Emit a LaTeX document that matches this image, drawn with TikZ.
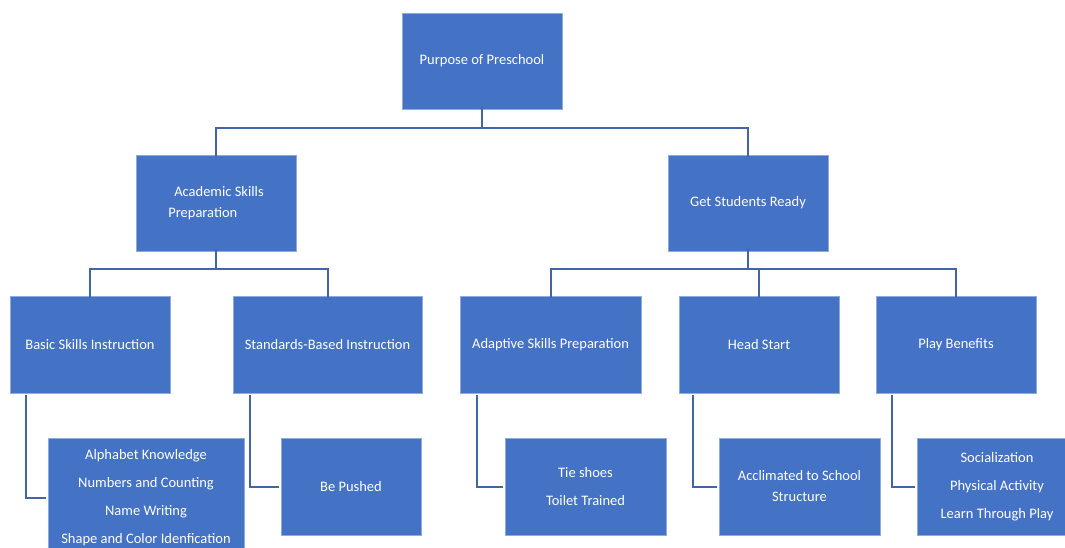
\documentclass[tikz,border=0pt]{standalone}
\usepackage{fontspec}
\setmainfont{Carlito}
\usetikzlibrary{positioning}

\definecolor{boxblue}{HTML}{4472C4}
\definecolor{lineblue}{HTML}{4165A8}
\definecolor{edgeblue}{HTML}{8FAADC}

\tikzset{
  box/.style={draw=edgeblue, line width=0.6pt, fill=boxblue, text=white,
    minimum width=160pt, minimum height=96pt, inner sep=2pt,
    font=\fontsize{14.5}{21}\selectfont, align=center},
  link/.style={draw=lineblue, line width=2pt}
}

\begin{document}
\begin{tikzpicture}[x=1pt,y=-1pt]
	\useasboundingbox (0,0) rectangle (1065,548);
	\clip (0,0) rectangle (1065,548);

	% top levels
	\node[box] (top) at (482,61) {Purpose of Preschool};
	\node[box, align=left] (acad) at (216,203) {\hspace*{6pt}Academic Skills\\Preparation};
	\node[box] (ready) at (748,203) {Get Students Ready};

	% third level
	\node[box, minimum height=97pt] (basic) at (90,344.5) {Basic Skills Instruction};
	\node[box, minimum width=189pt, minimum height=97pt] (std) at (327.5,344.5) {Standards-Based Instruction};
	\node[box, minimum width=181pt, minimum height=97pt] (adapt) at (550.5,344.5) {Adaptive Skills Preparation};
	\node[box, minimum height=97pt] (head) at (759,344.5) {Head Start};
	\node[box, minimum height=97pt] (play) at (956,344.5) {Play Benefits};

	% leaves
	\node[box, minimum width=196pt, minimum height=120pt] (alpha) at (146,498)
	  {Alphabet Knowledge\\[7pt]Numbers and Counting\\[7pt]Name Writing\\[7pt]Shape and Color Idenfication};
	\node[box, minimum width=140pt, minimum height=97pt] (pushed) at (351,486.5) {Be Pushed};
	\node[box, minimum width=161pt, minimum height=97pt] (tie) at (585.5,486.5) {Tie shoes\\[7pt]Toilet Trained};
	\node[box, minimum width=161pt, minimum height=97pt] (accl) at (799.5,486.5) {Acclimated to School\\Structure};
	\node[box, minimum height=97pt] (social) at (997,486.5) {Socialization\\[7pt]Physical Activity\\[7pt]Learn Through Play};

	% tree links
	\draw[link] ([yshift=2]top.south) -- ++(0,21) -| ([yshift=-2]acad.north);
	\draw[link] ([yshift=2]top.south) -- ++(0,21) -| ([yshift=-2]ready.north);
	\draw[link] ([yshift=2]acad.south) -- ++(0,20) -| ([yshift=-2]basic.north);
	\draw[link] ([yshift=2]acad.south) -- ++(0,20) -| ([yshift=-2]std.north);
	\draw[link] ([yshift=2]ready.south) -- ++(0,20) -| ([yshift=-2]adapt.north);
	\draw[link] ([yshift=2]ready.south) -- ++(0,20) -| ([yshift=-2]head.north);
	\draw[link] ([yshift=2]ready.south) -- ++(0,20) -| ([yshift=-2]play.north);

	% elbows to leaves
	\draw[link] ([shift={(16,2)}]basic.south west) |- ([xshift=-2]alpha.west);
	\draw[link] ([shift={(17,2)}]std.south west) |- ([xshift=-2]pushed.west);
	\draw[link] ([shift={(17,2)}]adapt.south west) |- ([xshift=-2]tie.west);
	\draw[link] ([shift={(14,2)}]head.south west) |- ([xshift=-2]accl.west);
	\draw[link] ([shift={(16,2)}]play.south west) |- ([xshift=-2]social.west);
\end{tikzpicture}
\end{document}
